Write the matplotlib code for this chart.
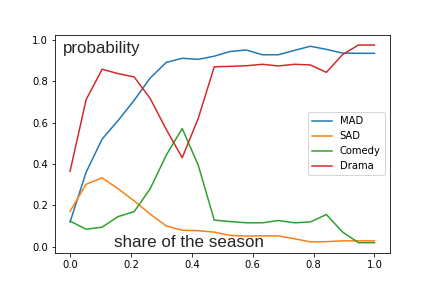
import numpy as np
import matplotlib
matplotlib.use("Agg")
import matplotlib.pyplot as plt

# share of the season, 20 points
x = np.linspace(0, 1, 20)

mad = [0.12, 0.36, 0.52, 0.61, 0.707, 0.815, 0.89, 0.91, 0.905, 0.92,
       0.943, 0.95, 0.927, 0.927, 0.948, 0.968, 0.953, 0.935, 0.934, 0.934]
sad = [0.172, 0.302, 0.333, 0.28, 0.222, 0.158, 0.101, 0.08, 0.078, 0.071,
       0.055, 0.052, 0.053, 0.053, 0.039, 0.024, 0.025, 0.029, 0.029, 0.029]
comedy = [0.124, 0.085, 0.095, 0.146, 0.17, 0.28, 0.442, 0.571, 0.394, 0.129,
          0.122, 0.116, 0.116, 0.127, 0.116, 0.12, 0.156, 0.072, 0.02, 0.02]
drama = [0.365, 0.71, 0.857, 0.836, 0.82, 0.716, 0.567, 0.43, 0.62, 0.869,
         0.871, 0.874, 0.881, 0.873, 0.881, 0.878, 0.842, 0.927, 0.974, 0.974]

fig, ax = plt.subplots(figsize=(6, 4), dpi=72)
fig.subplots_adjust(left=0.127, right=0.902, bottom=0.123, top=0.878)
ax.plot(x, mad, label='MAD')
ax.plot(x, sad, label='SAD')
ax.plot(x, comedy, label='Comedy')
ax.plot(x, drama, label='Drama')

ax.text(-0.025, 0.935, 'probability', fontsize=17, color='#262626',
        family=['Liberation Sans', 'DejaVu Sans'])
ax.text(0.145, 0.0, 'share of the season', fontsize=17, color='#262626',
        family=['Liberation Sans', 'DejaVu Sans'])

ax.legend(loc='center right')
fig.savefig('out.png', dpi=72)
